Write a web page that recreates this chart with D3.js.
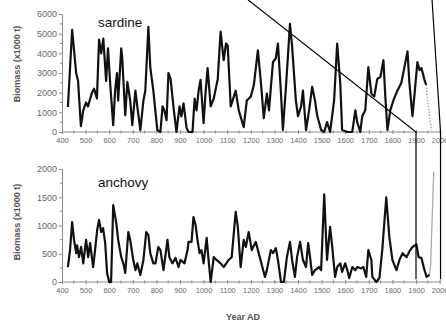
<!DOCTYPE html>
<html>
<head>
<meta charset="utf-8">
<script src="https://cdn.jsdelivr.net/npm/d3@7"></script>
<style>
  body { margin: 0; background: #fff; }
  svg { display: block; font-family: "Liberation Sans", Arial, sans-serif; }
</style>
</head>
<body>
<div id="chart"></div>
<script>
// year, biomass (x1000 t)
const sardineYears = [425,443,460,468,480,490,502,510,527,536,548,557,566,575,587,595,604,617,625,633,638,651,655,668,677,689,698,711,719,732,745,753,766,774,787,804,817,826,834,843,851,860,874,885,898,906,915,928,936,953,962,970,979,987,1000,1008,1017,1030,1043,1060,1072,1085,1095,1102,1115,1136,1149,1170,1183,1200,1213,1230,1243,1255,1268,1277,1294,1306,1315,1328,1336,1349,1366,1375,1391,1400,1413,1421,1434,1447,1460,1472,1481,1498,1511,1523,1536,1553,1566,1579,1587,1609,1630,1643,1651,1664,1672,1685,1698,1711,1723,1736,1749,1762,1770,1779,1791,1804,1821,1838,1851,1864,1872,1885,1894,1906,1915,1923,1936,1943];
const sardineValues = [1270,5200,3000,2600,300,1100,1500,1300,2000,2200,1700,4700,4000,4750,2600,4250,2500,350,2100,3000,1600,4250,3800,850,2550,1600,350,2100,1300,100,1600,2100,5350,3300,2100,100,0,1300,1100,600,3000,2700,1100,0,1300,800,1450,200,0,0,1700,1100,2100,2650,450,1950,3250,1300,1700,2700,5100,3650,4500,4400,1300,2100,1100,250,1600,1800,2400,4150,2500,700,1950,1100,3550,3750,4500,1950,100,2300,5500,4350,1600,800,1300,2100,100,1100,2300,1600,850,100,0,500,0,1600,4500,2500,100,0,0,1100,500,0,800,1100,3300,1950,1800,2700,2800,3650,1800,100,1100,1600,2100,2500,3300,4100,2500,800,1950,3550,3150,3250,2650,2400];
const sardineRecentYears = [1943,1950,1958,1966];
const sardineRecentValues = [2400,1500,700,100];

const anchovyYears = [425,434,443,451,460,464,472,481,490,502,511,519,532,540,549,557,566,574,583,591,600,608,617,630,638,651,660,668,681,689,702,711,719,732,745,757,766,774,787,796,808,817,830,847,855,868,881,894,902,919,932,936,949,957,966,974,983,991,1000,1013,1021,1030,1043,1055,1072,1085,1106,1119,1136,1145,1157,1170,1179,1191,1204,1221,1238,1260,1268,1285,1294,1306,1315,1328,1340,1353,1366,1375,1387,1396,1409,1421,1434,1443,1451,1460,1472,1489,1498,1511,1523,1536,1545,1557,1566,1579,1587,1600,1609,1617,1630,1643,1651,1668,1677,1689,1698,1711,1715,1732,1745,1757,1774,1787,1800,1817,1830,1843,1860,1872,1885,1902,1911,1923,1936,1945,1957];
const anchovyValues = [265,565,1060,745,510,650,440,620,330,745,440,690,265,565,920,1100,885,955,690,160,0,0,1360,1040,745,440,330,160,885,745,390,210,330,125,390,885,830,510,330,330,620,565,210,745,440,330,425,265,390,330,565,710,710,1150,1010,745,510,565,330,780,390,0,440,390,330,265,390,440,1240,975,265,745,620,885,565,710,440,90,210,565,510,600,390,0,0,440,710,390,90,440,710,390,265,690,440,125,210,265,210,1550,390,975,620,90,265,330,180,330,210,70,265,210,265,240,265,90,565,390,90,0,70,565,1500,800,390,210,390,510,440,540,620,665,440,425,210,90,125];
const anchovyRecentYears = [1957,1962,1975];
const anchovyRecentValues = [125,300,1950];

const xTicks = d3.range(400, 2001, 100);
const sardineTicks = [0,1000,2000,3000,4000,5000,6000];
const anchovyTicks = [0,500,1000,1500,2000];

const width = 446, height = 324;
const svg = d3.select("#chart").append("svg")
  .attr("width", width)
  .attr("height", height);

const x = d3.scaleLinear().domain([400, 2000]).range([62, 439.6]);
const fmt = d3.format("d");

const panels = [
  { name: "sardine", years: sardineYears, values: sardineValues,
    recentYears: sardineRecentYears, recentValues: sardineRecentValues, recentDash: "1.5,1.5",
    ticks: sardineTicks, minor: 500, y: d3.scaleLinear().domain([0, 6000]).range([132, 14]),
    labelY: 27, titleY: 64 },
  { name: "anchovy", years: anchovyYears, values: anchovyValues,
    recentYears: anchovyRecentYears, recentValues: anchovyRecentValues, recentDash: null,
    ticks: anchovyTicks, minor: 250, y: d3.scaleLinear().domain([0, 2000]).range([282, 169]),
    labelY: 187, titleY: 222 }
];

panels.forEach(p => {
  const g = svg.append("g");
  const y0 = p.y(0);

  // x axis, ticks crossing the line
  const xAxis = g.append("g")
    .attr("transform", `translate(0,${y0})`)
    .call(d3.axisBottom(x).tickValues(xTicks).tickFormat(fmt).tickSize(2).tickPadding(4));
  xAxis.select(".domain").attr("stroke", "#8a8a8a").attr("d", `M${x(400)},0H${x(2000) + 1.5}`);
  xAxis.selectAll(".tick line").attr("y1", -2).attr("stroke", "#8a8a8a");
  xAxis.selectAll(".tick text").attr("fill", "#6a6a6a").attr("font-size", "7.5px");
  g.append("g").selectAll("line")
    .data(d3.range(450, 2000, 100))
    .join("line")
    .attr("x1", d => x(d)).attr("x2", d => x(d))
    .attr("y1", y0 - 1.5).attr("y2", y0 + 1.5)
    .attr("stroke", "#8a8a8a");

  // y axis
  const yAxis = g.append("g")
    .attr("transform", `translate(${x(400)},0)`)
    .call(d3.axisLeft(p.y).tickValues(p.ticks).tickFormat(fmt).tickSize(3).tickPadding(2));
  yAxis.select(".domain").attr("stroke", "#8a8a8a");
  yAxis.selectAll(".tick line").attr("stroke", "#8a8a8a");
  yAxis.selectAll(".tick text").attr("fill", "#666").attr("font-size", "9px");
  g.append("g").selectAll("line")
    .data(d3.range(p.minor, p.y.domain()[1], p.minor * 2))
    .join("line")
    .attr("x1", x(400) - 2).attr("x2", x(400))
    .attr("y1", d => p.y(d)).attr("y2", d => p.y(d))
    .attr("stroke", "#8a8a8a");

  g.append("text")
    .attr("transform", `translate(20,${p.titleY}) rotate(-90)`)
    .attr("text-anchor", "middle")
    .attr("font-size", "9px")
    .attr("font-weight", "bold")
    .attr("fill", "#555")
    .text("Biomass (x1000 t)");

  g.append("text")
    .attr("x", 98).attr("y", p.labelY)
    .attr("font-size", "13.5px")
    .attr("fill", "#111")
    .text(p.name);

  const line = d3.line().x(d => x(d[0])).y(d => p.y(d[1]));

  g.append("path")
    .attr("d", line(d3.zip(p.recentYears, p.recentValues)))
    .attr("fill", "none")
    .attr("stroke", "#aaa")
    .attr("stroke-width", p.recentDash ? 1.6 : 1.3)
    .attr("stroke-dasharray", p.recentDash);

  g.append("path")
    .attr("d", line(d3.zip(p.years, p.values)))
    .attr("fill", "none")
    .attr("stroke", "#111")
    .attr("stroke-width", 2.2)
    .attr("stroke-linejoin", "round");
});

svg.append("text")
  .attr("x", 243).attr("y", 320)
  .attr("text-anchor", "middle")
  .attr("font-size", "9px")
  .attr("font-weight", "bold")
  .attr("fill", "#555")
  .text("Year AD");

// zoom connector lines running from the panels off to the top edge
const yTop = panels[0].y, yBottom = panels[1].y;
const connectors = [
  [[x(1188), yTop(6720)], [x(1900), yTop(0)], [x(1900), yBottom(50)]],
  [[x(1968), yTop(6720)], [x(2004), yTop(0)], [x(2004), yBottom(50)]]
];
svg.append("g").selectAll("path")
  .data(connectors)
  .join("path")
  .attr("d", d => d3.line()(d))
  .attr("fill", "none")
  .attr("stroke", "#000")
  .attr("stroke-width", 1.2);
</script>
</body>
</html>
